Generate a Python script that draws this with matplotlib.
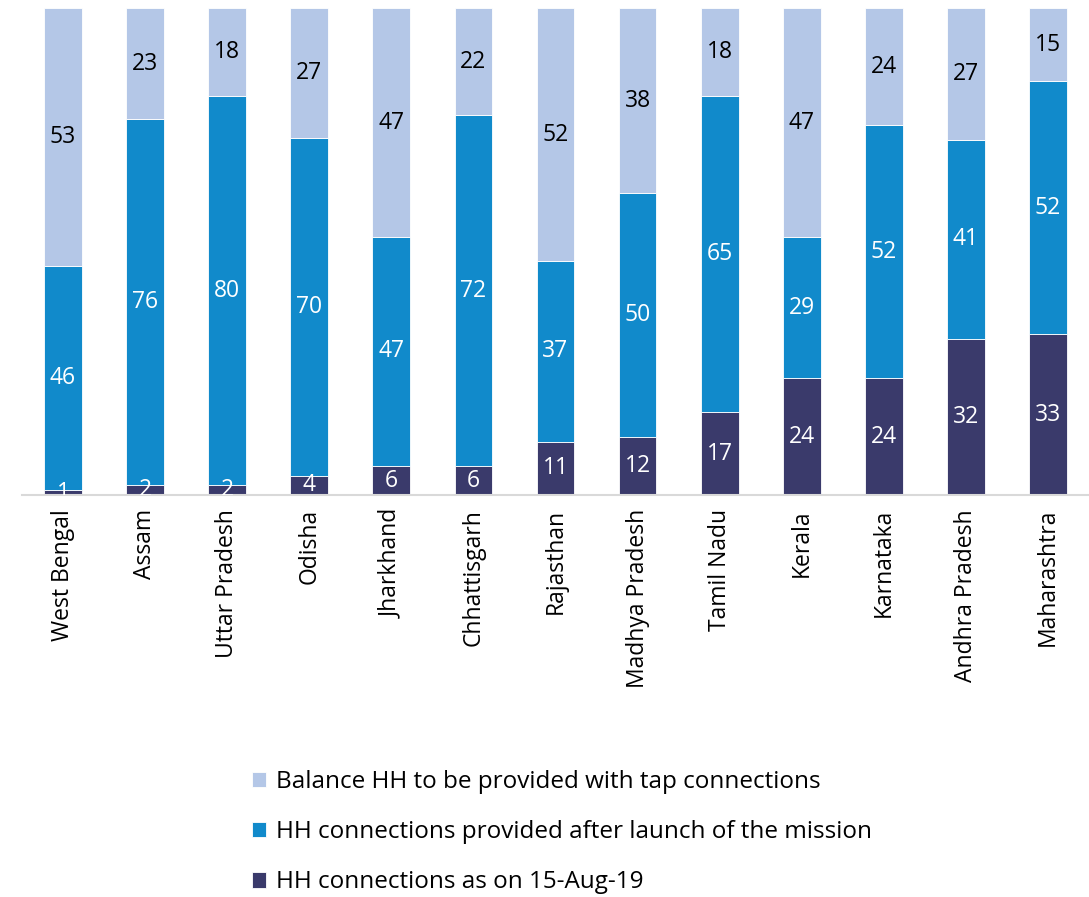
import numpy as np
import matplotlib
matplotlib.use('Agg')
import matplotlib.pyplot as plt

states = ['West Bengal', 'Assam', 'Uttar Pradesh', 'Odisha', 'Jharkhand', 'Chhattisgarh',
          'Rajasthan', 'Madhya Pradesh', 'Tamil Nadu', 'Kerala', 'Karnataka',
          'Andhra Pradesh', 'Maharashtra']
as_on = [1, 2, 2, 4, 6, 6, 11, 12, 17, 24, 24, 32, 33]
after_launch = [46, 76, 80, 70, 47, 72, 37, 50, 65, 29, 52, 41, 52]
balance = [53, 23, 18, 27, 47, 22, 52, 38, 18, 47, 24, 27, 15]

labels = ['HH connections as on 15-Aug-19',
          'HH connections provided after launch of the mission',
          'Balance HH to be provided with tap connections']
colors = ['#3A3A6B', '#118ACB', '#B4C7E7']
text_colors = ['white', 'white', 'black']

plt.rcParams['font.family'] = ['Open Sans', 'DejaVu Sans']

fig = plt.figure(figsize=(10.89, 8.97), dpi=100)
ax = fig.add_axes([0.0202, 0.448, 0.9798, 0.543])

series = [np.array(as_on, float), np.array(after_launch, float), np.array(balance, float)]
total = sum(series)
x = np.arange(len(states))
bottom = np.zeros(len(states))
handles = []
for vals, lab, col, tc in zip(series, labels, colors, text_colors):
    pct = vals / total * 100
    b = ax.bar(x, pct, 0.46, bottom=bottom, color=col, edgecolor='white', linewidth=0.6, label=lab)
    handles.append(b)
    for xi, bt, h, v in zip(x, bottom, pct, vals):
        ax.text(xi, bt + h / 2, '%d' % v, ha='center', va='center', color=tc, fontsize=16.5, clip_on=True)
    bottom += pct

ax.set_xlim(-0.5, len(states) - 0.5)
ax.set_ylim(0, 100)
ax.set_xticks(x)
ax.set_xticklabels(states, rotation=90, fontsize=16.5)
ax.tick_params(axis='x', length=0, pad=10)
ax.set_yticks([])
for s in ['top', 'right', 'left']:
    ax.spines[s].set_visible(False)
ax.spines['bottom'].set_color('#D9D9D9')
ax.spines['bottom'].set_linewidth(1.5)

fig.legend(handles[::-1], labels[::-1], loc='upper left', bbox_to_anchor=(0.211, 0.166),
           frameon=False, fontsize=17.5, handlelength=0.6, handleheight=0.6,
           handletextpad=0.4, labelspacing=1.08)

fig.savefig('out.png', dpi=100)
